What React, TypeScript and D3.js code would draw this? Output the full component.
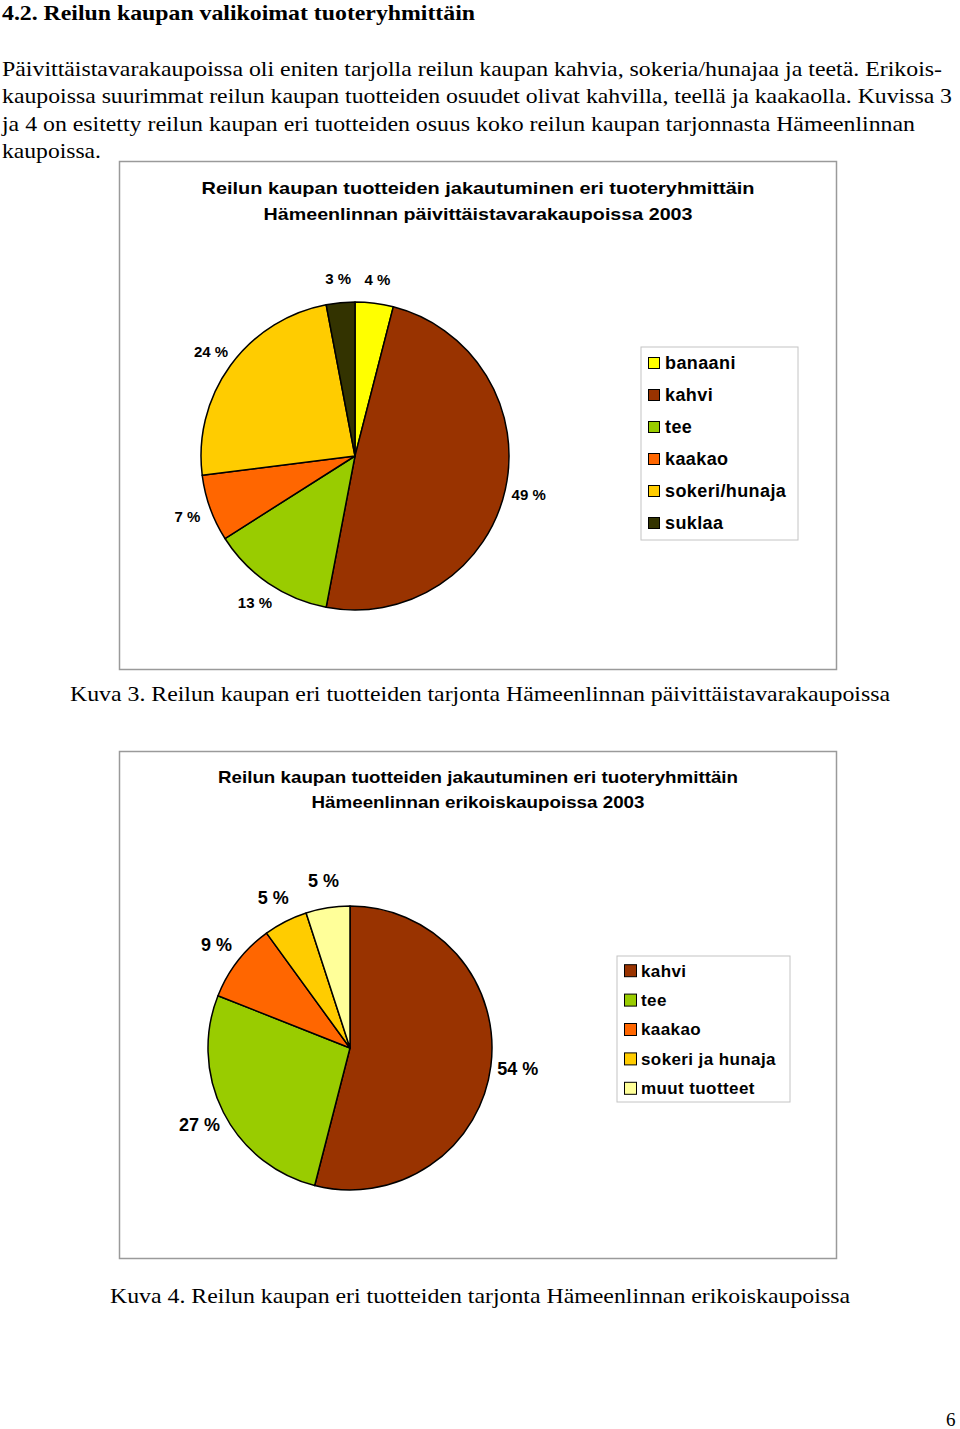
import * as d3 from 'd3'

// Kuva 3 – päivittäistavarakaupat
const paivCategories = ['banaani', 'kahvi', 'tee', 'kaakao', 'sokeri/hunaja', 'suklaa']
const paivValues = [4, 49, 13, 7, 24, 3]
const paivColors = ['#FFFF00', '#993300', '#99CC00', '#FF6600', '#FFCC00', '#333300']

// Kuva 4 – erikoiskaupat
const erikCategories = ['kahvi', 'tee', 'kaakao', 'sokeri ja hunaja', 'muut tuotteet']
const erikValues = [54, 27, 9, 5, 5]
const erikColors = ['#993300', '#99CC00', '#FF6600', '#FFCC00', '#FFFF99']

const heading = '4.2. Reilun kaupan valikoimat tuoteryhmittäin'
const paragraph = [
  'Päivittäistavarakaupoissa oli eniten tarjolla reilun kaupan kahvia, sokeria/hunajaa ja teetä. Erikois-',
  'kaupoissa suurimmat reilun kaupan tuotteiden osuudet olivat kahvilla, teellä ja kaakaolla. Kuvissa 3',
  'ja 4 on esitetty reilun kaupan eri tuotteiden osuus koko reilun kaupan tarjonnasta Hämeenlinnan',
  'kaupoissa.',
]
const paragraphWidths = [940, 950, 913, 99]

const serif = '"Liberation Serif", "Times New Roman", serif'
const sans = '"Liberation Sans", Arial, sans-serif'

type PieProps = {
  categories: string[]
  values: number[]
  colors: string[]
  title: string[]
  titleWidths: number[]
  titleY: number[]
  frame: { x: number; y: number; w: number; h: number }
  cx: number
  cy: number
  r: number
  labelR: number
  labelSize: number
  legend: { x: number; y: number; w: number; h: number; step: number; size: number; font: number }
}

function PieChart(p: PieProps) {
  const pie = d3.pie<number>().sort(null).value(d => d)
  const arcs = pie(p.values)
  const arc = d3.arc<d3.PieArcDatum<number>>().innerRadius(0).outerRadius(p.r)
  const labelArc = d3.arc<d3.PieArcDatum<number>>().innerRadius(p.labelR).outerRadius(p.labelR)
  const lg = p.legend
  const firstY = lg.y + lg.step / 2

  return (
    <g>
      <rect x={p.frame.x} y={p.frame.y} width={p.frame.w} height={p.frame.h}
        fill="#fff" stroke="#9a9a9a" strokeWidth={1.5} />
      {p.title.map((t, i) => (
        <text key={i} x={p.frame.x + p.frame.w / 2} y={p.titleY[i]} dy="0.35em"
          textAnchor="middle" fontFamily={sans} fontWeight="bold" fontSize={17}
          textLength={p.titleWidths[i]} lengthAdjust="spacingAndGlyphs">{t}</text>
      ))}
      <g transform={`translate(${p.cx},${p.cy})`}>
        {arcs.map((a, i) => (
          <path key={i} d={arc(a) || ''} fill={p.colors[i]} stroke="#000" strokeWidth={1.5}
            strokeLinejoin="round" />
        ))}
        {arcs.map((a, i) => {
          const [lx, ly] = labelArc.centroid(a)
          return (
            <text key={i} x={lx} y={ly} dy="0.35em" textAnchor="middle" fontFamily={sans}
              fontWeight="bold" fontSize={p.labelSize} fill="#000">{`${p.values[i]} %`}</text>
          )
        })}
      </g>
      <rect x={lg.x} y={lg.y} width={lg.w} height={lg.h} fill="#fff" stroke="#c4c4c4" strokeWidth={1} />
      {p.categories.map((c, i) => {
        const y = firstY + i * lg.step
        return (
          <g key={c}>
            <rect x={lg.x + 7.5} y={y - lg.size / 2} width={lg.size} height={lg.size}
              fill={p.colors[i]} stroke="#000" strokeWidth={1} />
            <text x={lg.x + 24} y={y} dy="0.35em" fontFamily={sans} fontWeight="bold"
              fontSize={lg.font} letterSpacing={0.4}>{c}</text>
          </g>
        )
      })}
    </g>
  )
}

export default function App() {
  return (
    <svg width={960} height={1429} viewBox="0 0 960 1429"
      style={{ position: 'absolute', left: 0, top: 0, background: '#fff' }}>
      <rect width={960} height={1429} fill="#fff" />
      <text x={2} y={20} fontFamily={serif} fontWeight="bold" fontSize={21}
        textLength={473} lengthAdjust="spacingAndGlyphs">{heading}</text>
      {paragraph.map((line, i) => (
        <text key={i} x={2} y={76 + i * 27.3} fontFamily={serif} fontSize={22}
          textLength={paragraphWidths[i]} lengthAdjust="spacingAndGlyphs">{line}</text>
      ))}

      <PieChart
        categories={paivCategories}
        values={paivValues}
        colors={paivColors}
        title={['Reilun kaupan tuotteiden jakautuminen eri tuoteryhmittäin', 'Hämeenlinnan päivittäistavarakaupoissa 2003']}
        titleWidths={[553, 429]}
        titleY={[188, 214]}
        frame={{ x: 119.5, y: 161.5, w: 717, h: 508 }}
        cx={355}
        cy={456}
        r={154}
        labelR={178}
        labelSize={15}
        legend={{ x: 641, y: 347, w: 157, h: 193, step: 32, size: 11, font: 18 }}
      />
      <text x={70} y={701} fontFamily={serif} fontSize={22} textLength={820}
        lengthAdjust="spacingAndGlyphs">Kuva 3. Reilun kaupan eri tuotteiden tarjonta Hämeenlinnan päivittäistavarakaupoissa</text>

      <PieChart
        categories={erikCategories}
        values={erikValues}
        colors={erikColors}
        title={['Reilun kaupan tuotteiden jakautuminen eri tuoteryhmittäin', 'Hämeenlinnan erikoiskaupoissa 2003']}
        titleWidths={[520, 333]}
        titleY={[777, 802]}
        frame={{ x: 119.5, y: 751.5, w: 717, h: 507 }}
        cx={350}
        cy={1048}
        r={142}
        labelR={169}
        labelSize={18}
        legend={{ x: 617, y: 956, w: 173, h: 146, step: 29.4, size: 12, font: 17 }}
      />
      <text x={110} y={1303} fontFamily={serif} fontSize={22} textLength={740}
        lengthAdjust="spacingAndGlyphs">Kuva 4. Reilun kaupan eri tuotteiden tarjonta Hämeenlinnan erikoiskaupoissa</text>

      <text x={946} y={1426} fontFamily={serif} fontSize={19}>6</text>
    </svg>
  )
}
